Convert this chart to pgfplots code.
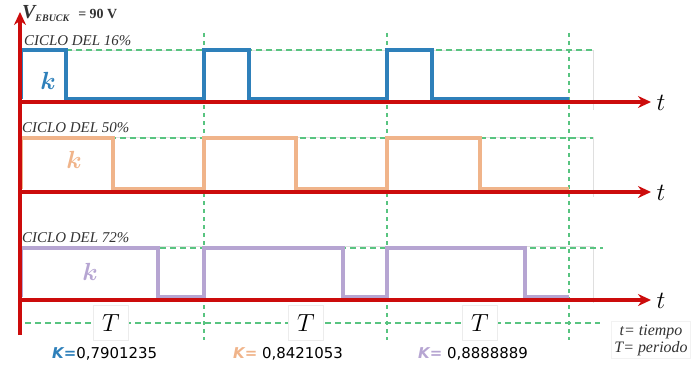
\documentclass[border=0pt]{standalone}
\usepackage{amsmath}
\usepackage{bm}
\usepackage{fontspec}
\usepackage{pgfplots}
\pgfplotsset{compat=1.18}
\usetikzlibrary{arrows.meta}
\newfontfamily\sansf{DejaVu Sans}
\newfontfamily\seriff{Liberation Serif}
\definecolor{cblue}{RGB}{46,128,186}
\definecolor{corange}{RGB}{240,180,138}
\definecolor{cpurple}{RGB}{182,165,210}
\definecolor{cred}{RGB}{204,12,12}
\definecolor{cgreen}{RGB}{88,196,128}
\definecolor{ctext}{RGB}{50,50,50}
\begin{document}
\begin{tikzpicture}
\begin{axis}[
  scale only axis, width=692bp, height=367bp,
  xmin=0, xmax=692, ymin=0, ymax=367, y dir=reverse,
  hide axis, clip=false, enlargelimits=false,
]
% faint frames
\addplot[gray!25, line width=0.5bp] coordinates {(20,50) (593,50) (593,110)};
\addplot[gray!25, line width=0.5bp] coordinates {(20,137) (593,137) (593,197)};
\addplot[gray!25, line width=0.5bp] coordinates {(20,246) (593,246) (593,303)};
% green dashed guides
\addplot[cgreen, dash pattern=on 6bp off 4bp, line width=1.3bp] coordinates {(66,50) (593,50)};
\addplot[cgreen, dash pattern=on 6bp off 4bp, line width=1.3bp] coordinates {(20,138) (593,138)};
\addplot[cgreen, dash pattern=on 6bp off 4bp, line width=1.3bp] coordinates {(20,248) (603,248)};
\addplot[cgreen, dash pattern=on 6bp off 4bp, line width=1.3bp] coordinates {(25,323) (600,323)};
\addplot[cgreen, dash pattern=on 4bp off 4bp, line width=1.3bp] coordinates {(204,33) (204,340)};
\addplot[cgreen, dash pattern=on 4bp off 4bp, line width=1.3bp] coordinates {(387,33) (387,340)};
\addplot[cgreen, dash pattern=on 4bp off 4bp, line width=1.3bp] coordinates {(569,33) (569,340)};
% pulses
\addplot[cblue, line width=3.4bp] coordinates {(21,99) (21,50) (66,50) (66,99) (204,99) (204,50) (249,50) (249,99) (387,99) (387,50) (432,50) (432,99) (569,99)};
\addplot[corange, line width=3.4bp] coordinates {(21,189) (21,138) (113,138) (113,189) (204,189) (204,138) (296,138) (296,189) (387,189) (387,138) (480,138) (480,189) (569,189)};
\addplot[cpurple, line width=3.4bp] coordinates {(21,297) (21,248) (158,248) (158,297) (204,297) (204,248) (343,248) (343,297) (387,297) (387,248) (525,248) (525,297) (569,297)};
% red axes
\addplot[cred, line width=3.2bp, -{Stealth[length=13bp,width=12bp]}] coordinates {(20,335) (20,12)};
\addplot[cred, line width=3.2bp, -{Stealth[length=13bp,width=12bp]}] coordinates {(18,102) (651,102)};
\addplot[cred, line width=3.2bp, -{Stealth[length=13bp,width=12bp]}] coordinates {(18,192) (651,192)};
\addplot[cred, line width=3.2bp, -{Stealth[length=13bp,width=12bp]}] coordinates {(18,300) (651,300)};
% texts
\node[anchor=west, inner sep=0, text=ctext] at (axis cs:22,14) {\fontsize{20}{20}\selectfont\seriff\bfseries\itshape V\raisebox{-3bp}{\fontsize{10}{10}\selectfont\seriff\bfseries\itshape EBUCK}\hspace{9bp}\fontsize{14}{14}\selectfont\seriff\bfseries\upshape = 90 V};
\node[anchor=west, inner sep=0, text=ctext] at (axis cs:24,41) {\fontsize{15}{15}\selectfont\seriff\itshape CICLO DEL 16\%};
\node[anchor=west, inner sep=0, text=ctext] at (axis cs:22,128) {\fontsize{15}{15}\selectfont\seriff\itshape CICLO DEL 50\%};
\node[anchor=west, inner sep=0, text=ctext] at (axis cs:22,238) {\fontsize{15}{15}\selectfont\seriff\itshape CICLO DEL 72\%};
\node[text=cblue] at (axis cs:48,81) {\fontsize{24}{24}\selectfont$\bm{k}$};
\node[text=corange] at (axis cs:74,160) {\fontsize{24}{24}\selectfont$\bm{k}$};
\node[text=cpurple] at (axis cs:90,272) {\fontsize{24}{24}\selectfont$\bm{k}$};
\node at (axis cs:661,103) {\fontsize{25}{25}\selectfont$t$};
\node at (axis cs:661,193) {\fontsize{25}{25}\selectfont$t$};
\node at (axis cs:661,301) {\fontsize{25}{25}\selectfont$t$};
\node[fill=white, draw=gray!15, minimum width=35bp, minimum height=35bp, inner sep=0] at (axis cs:111,323) {\fontsize{23}{23}\selectfont$T$};
\node[fill=white, draw=gray!15, minimum width=35bp, minimum height=35bp, inner sep=0] at (axis cs:306,323) {\fontsize{23}{23}\selectfont$T$};
\node[fill=white, draw=gray!15, minimum width=35bp, minimum height=35bp, inner sep=0] at (axis cs:480,323) {\fontsize{23}{23}\selectfont$T$};
\node[anchor=west, inner sep=0] at (axis cs:52,354) {\fontsize{15}{15}\selectfont\sansf{\color{cblue}\itshape\bfseries K=}0,7901235};
\node[anchor=west, inner sep=0] at (axis cs:233,354) {\fontsize{15}{15}\selectfont\sansf{\color{corange}\itshape\bfseries K=} 0,8421053};
\node[anchor=west, inner sep=0] at (axis cs:418,354) {\fontsize{15}{15}\selectfont\sansf{\color{cpurple}\itshape\bfseries K=} 0,8888889};
\node[fill=white, draw=gray!10, align=center, inner sep=3bp, text=ctext, font=\fontsize{16}{17}\selectfont\seriff\itshape] at (axis cs:651,340) {t= tiempo\\ T= periodo};
\end{axis}
\pgfresetboundingbox
\path (0,0) rectangle (692bp,367bp);
\end{tikzpicture}
\end{document}
